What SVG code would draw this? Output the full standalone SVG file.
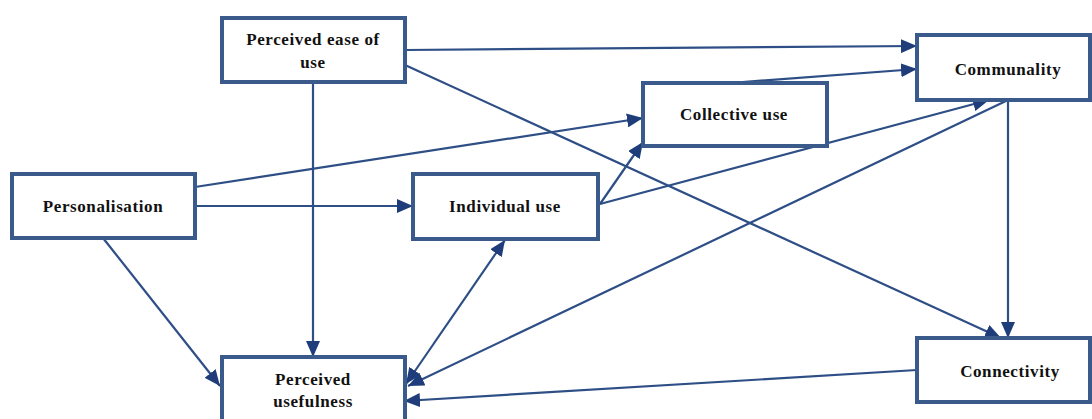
<svg xmlns="http://www.w3.org/2000/svg" width="1092" height="419" viewBox="0 0 1092 419">
<style>
.box{fill:#ffffff;stroke:#3a5a8c;stroke-width:4}
.lbl{font-family:"Liberation Serif","Times New Roman",serif;font-size:17px;font-weight:bold;fill:#111;text-anchor:middle;letter-spacing:0.6px}
.ln{stroke:#2e4e86;stroke-width:2.2;fill:none;marker-end:url(#ah)}
</style>
<defs>
<marker id="ah" markerUnits="userSpaceOnUse" markerWidth="18" markerHeight="14" refX="16" refY="7" orient="auto">
<path d="M0,0 L16,7 L0,14 Z" fill="#1f3d7a"/>
</marker>
<marker id="ahs" markerUnits="userSpaceOnUse" markerWidth="18" markerHeight="14" refX="16" refY="7" orient="auto-start-reverse">
<path d="M0,0 L16,7 L0,14 Z" fill="#1f3d7a"/>
</marker>
</defs>
<rect width="1092" height="419" fill="#ffffff"/>
<g id="connectors">
<line class="ln" x1="405" y1="50" x2="917" y2="46"/>
<line class="ln" x1="405" y1="65" x2="1001" y2="338"/>
<line class="ln" x1="313" y1="82" x2="313" y2="357"/>
<line class="ln" x1="730" y1="83" x2="917" y2="69"/>
<line class="ln" x1="195" y1="187" x2="643" y2="118"/>
<line class="ln" x1="195" y1="206" x2="413" y2="206"/>
<line class="ln" x1="103" y1="238" x2="220" y2="386"/>
<line class="ln" x1="600" y1="204" x2="643" y2="142"/>
<line class="ln" x1="600" y1="204" x2="989" y2="100"/>
<line class="ln" x1="1008" y1="100" x2="1008" y2="338"/>
<line class="ln" x1="1008" y1="100" x2="408" y2="386"/>
<line class="ln" x1="917" y1="370" x2="404" y2="401"/>
<line class="ln" style="marker-start:url(#ahs)" x1="406" y1="384" x2="505" y2="240"/>
</g>
<g id="peou"><rect class="box" x="222" y="18" width="183" height="64"/><text class="lbl" x="313" y="45">Perceived ease of</text><text class="lbl" x="313" y="68">use</text></g>
<g id="communality"><rect class="box" x="917" y="35" width="173" height="65"/><text class="lbl" x="1008" y="75">Communality</text></g>
<g id="collective"><rect class="box" x="643" y="83" width="184" height="63"/><text class="lbl" x="734" y="120">Collective use</text></g>
<g id="personalisation"><rect class="box" x="12" y="174" width="183" height="64"/><text class="lbl" x="103" y="212">Personalisation</text></g>
<g id="individual"><rect class="box" x="413" y="174" width="185" height="65"/><text class="lbl" x="505" y="212">Individual use</text></g>
<g id="pu"><rect class="box" x="222" y="357" width="183" height="72"/><text class="lbl" x="313" y="385">Perceived</text><text class="lbl" x="313" y="407">usefulness</text></g>
<g id="connectivity"><rect class="box" x="917" y="338" width="173" height="64"/><text class="lbl" x="1010" y="377">Connectivity</text></g>
</svg>
